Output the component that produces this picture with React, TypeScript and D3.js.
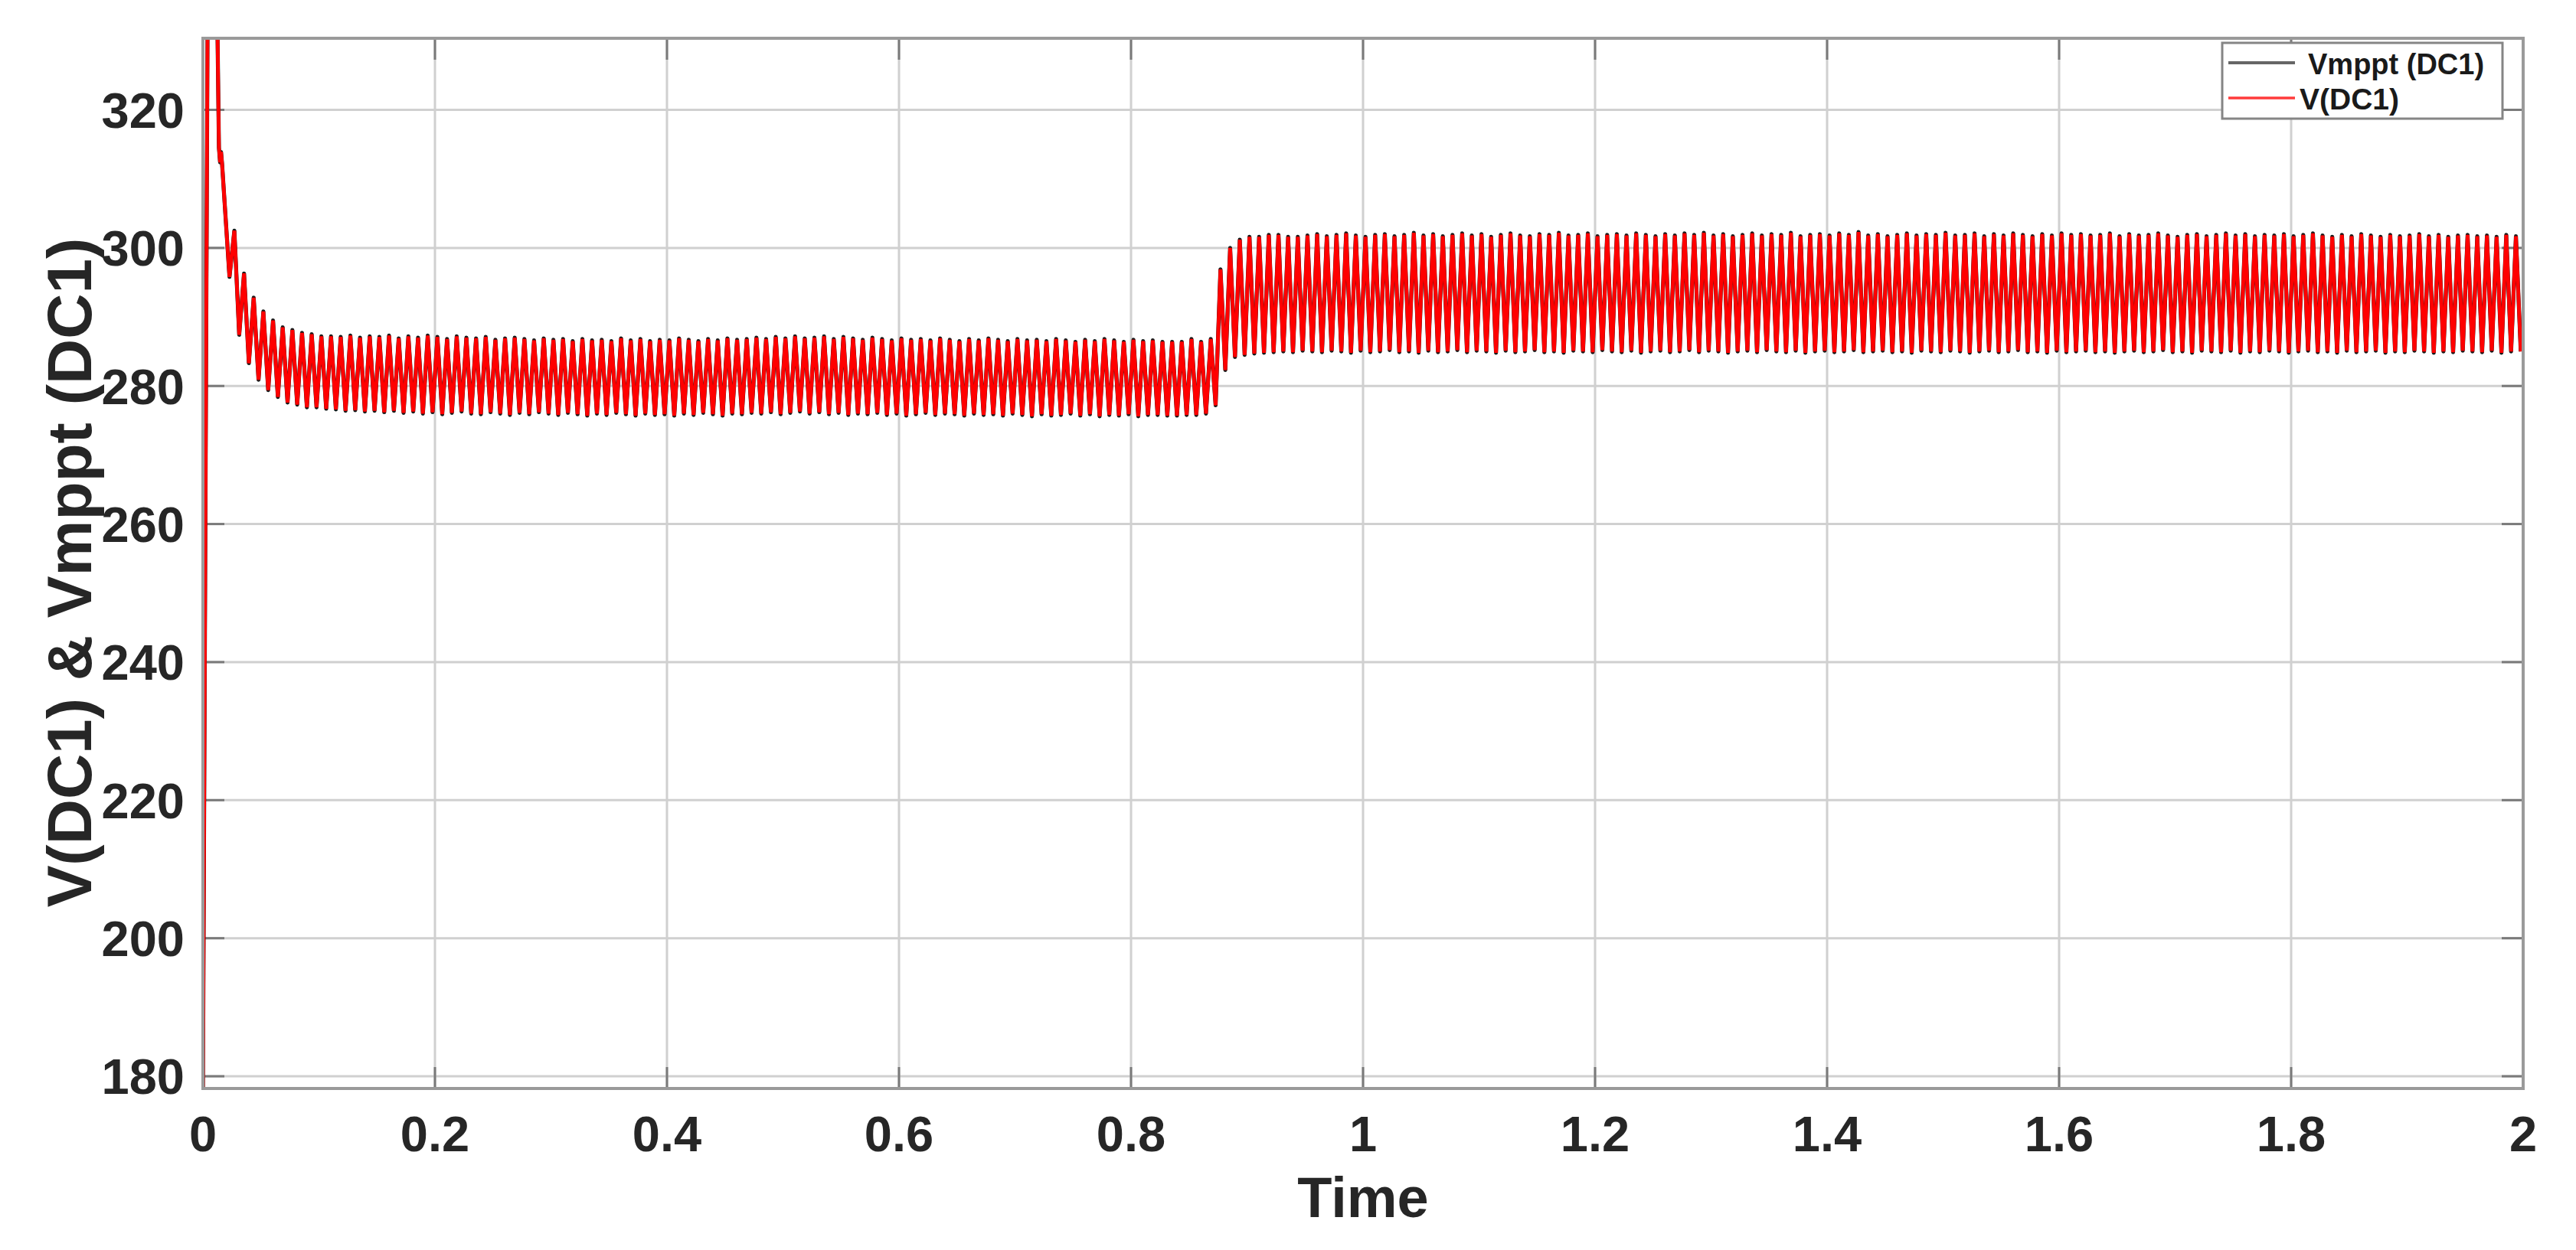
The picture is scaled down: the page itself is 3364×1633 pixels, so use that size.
import React from "react";
import * as d3 from "d3";

// ---------- data ----------
const xTicks = [0, 0.2, 0.4, 0.6, 0.8, 1, 1.2, 1.4, 1.6, 1.8, 2];
const yTicks = [180, 200, 220, 240, 260, 280, 300, 320];
const xDomain = [0, 2];
const yDomain = [178.23, 330.37];

const seriesNames = ["Vmppt (DC1)", "V(DC1)"];

// start-up transient (time s, voltage V)
const transientTime = [0, 0.0045, 0.0122, 0.0138, 0.0148, 0.0156, 0.0165, 0.0229];
const transientValue = [178, 352, 336, 314.5, 312.4, 313.9, 312.2, 295.8];

// ripple: one peak and one trough per 120 Hz cycle
const rippleStart = 0.0271;
const ripplePeriod = 1 / 120;

const peaksPhase1 = [
  302.5, 296.3, 292.8, 290.8, 289.5, 288.5, 288.1, 287.7, 287.5, 287.2, 287.2, 287.1, 287.3, 287.0, 287.2,
  287.1, 287.3, 286.9, 287.2, 287.0, 287.3, 287.1, 286.8, 287.2, 287.0, 286.9, 287.1, 286.7, 286.9, 287.0, 286.8, 286.6, 286.9, 286.7, 286.8,
  286.5, 286.8, 286.6, 286.7, 286.5, 286.9, 286.6, 286.8, 286.5, 286.7, 286.6, 286.9, 286.7, 286.5, 286.8, 286.6, 286.9, 286.7, 286.8, 287.0,
  286.8, 287.1, 286.9, 287.2, 286.9, 287.0, 287.2, 286.8, 287.1, 286.9, 286.7, 287.0, 286.8, 286.6, 286.9, 286.7, 286.8, 286.6, 286.9, 286.7,
  286.5, 286.8, 286.6, 286.9, 286.7, 286.5, 286.8, 286.6, 286.7, 286.5, 286.8, 286.6, 286.4, 286.7, 286.5, 286.8, 286.6, 286.4, 286.7, 286.5,
  286.6, 286.4, 286.4, 286.4, 286.8, 286.4, 286.8,
];
const troughsPhase1 = [
  287.4, 283.3, 280.9, 279.4, 278.4, 277.6, 277.3, 276.9, 276.9, 276.7, 276.6, 276.4, 276.5, 276.3, 276.4,
  276.2, 276.4, 276.1, 276.3, 276.0, 276.2, 275.9, 276.1, 276.3, 276.0, 275.9, 276.2, 276.0, 275.8, 276.1, 275.9, 276.2, 276.0, 275.8, 276.1,
  275.9, 275.7, 276.0, 275.8, 276.1, 275.9, 275.7, 276.0, 275.8, 275.9, 275.7, 276.0, 275.8, 276.1, 275.9, 275.7, 276.0, 275.9, 276.1, 276.0,
  276.2, 275.9, 276.1, 276.3, 276.0, 276.2, 275.9, 276.1, 275.8, 276.0, 275.9, 276.1, 275.8, 276.0, 275.7, 275.9, 276.1, 275.8, 276.0, 275.9,
  275.7, 276.0, 275.8, 275.9, 275.7, 276.0, 275.8, 275.6, 275.9, 275.7, 275.8, 276.0, 275.7, 275.9, 275.6, 275.8, 275.7, 275.9, 275.6, 275.8,
  275.8, 275.7, 275.7, 275.8, 275.8, 276.0, 277.2,
];
const peaksPhase2 = [
  296.9, 300.0, 301.2, 301.6, 301.6, 301.9, 301.9, 301.6, 301.6,
  301.8, 302.0, 301.7, 301.9, 302.1, 301.8, 301.6, 301.9, 302.0, 301.7, 301.9, 302.2, 301.8, 302.0, 301.7, 301.9, 302.1, 301.8, 302.0, 301.6,
  301.9, 302.1, 301.8, 301.7, 302.0, 301.9, 302.2, 301.8, 301.9, 302.1, 301.7, 301.9, 302.0, 301.8, 302.1, 301.9, 301.7, 302.0, 301.8, 302.1,
  301.9, 302.2, 301.8, 302.0, 301.7, 301.9, 302.1, 301.8, 302.0, 301.9, 302.2, 301.7, 301.9, 302.0, 301.8, 302.1, 301.9, 302.3, 301.8, 302.0,
  301.7, 301.9, 302.1, 301.8, 302.0, 301.9, 302.2, 301.8, 301.9, 302.1, 301.7, 302.0, 301.8, 302.1, 301.9, 301.7, 302.0, 301.8, 302.1, 301.9,
  302.0, 301.8, 301.9, 302.1, 301.7, 302.0, 301.8, 301.9, 302.1, 301.8, 301.6, 301.9, 302.0, 301.7, 301.9, 302.1, 301.8, 302.0, 301.7, 301.9,
  301.8, 302.0, 301.7, 301.9, 302.1, 301.8, 301.6, 301.9, 301.7, 302.0, 301.8, 301.6, 301.9, 301.7, 301.8, 302.0, 301.7, 301.9, 301.6, 301.8,
  301.9, 301.7, 301.8, 301.6, 301.9, 301.7,
];
const troughsPhase2 = [
  282.3, 284.2, 284.5, 284.7, 284.8, 284.9, 285.0, 284.9, 285.1,
  285.0, 284.9, 285.1, 285.0, 284.8, 285.1, 284.9, 285.0, 285.2, 284.9, 285.0, 284.8, 285.1, 284.9, 285.0, 285.2, 284.9, 285.1, 285.0, 284.8,
  285.1, 284.9, 285.0, 285.2, 284.9, 285.0, 284.8, 285.1, 285.0, 284.9, 285.2, 285.0, 284.9, 285.1, 284.8, 285.0, 285.1, 284.9, 285.0, 285.2,
  284.9, 285.1, 285.0, 284.8, 285.0, 285.1, 284.9, 285.2, 285.0, 284.9, 285.1, 284.8, 285.0, 285.1, 284.9, 285.0, 285.2, 284.9, 285.0, 285.1,
  284.9, 285.0, 284.8, 285.1, 285.0, 284.9, 285.1, 285.0, 284.8, 285.0, 285.1, 284.9, 285.0, 285.2, 284.9, 285.0, 284.8, 285.1, 284.9, 285.0,
  285.1, 284.9, 285.0, 284.8, 285.0, 285.1, 284.9, 285.0, 285.2, 284.9, 285.0, 284.8, 285.1, 285.0, 284.9, 285.1, 284.8, 285.0, 284.9, 285.1,
  285.0, 284.8, 285.0, 285.1, 284.9, 285.0, 284.8, 285.1, 284.9, 285.0, 285.1, 284.8, 285.0, 284.9, 285.1, 285.0, 284.8, 285.0, 284.9, 285.1,
  285.0, 284.9, 285.1, 284.8, 285.0, 285.0,
];

// ---------- layout ----------
const W = 3364;
const H = 1633;
const M = { left: 265, right: 3295, top: 50, bottom: 1422 };
const FONT = "'Liberation Sans', Arial, Helvetica, sans-serif";
const TEXT = "#262626";

function buildPoints(): [number, number][] {
  const pts: [number, number][] = transientTime.map((t, i) => [t, transientValue[i]] as [number, number]);
  const peaks = [...peaksPhase1, ...peaksPhase2];
  const troughs = [...troughsPhase1, ...troughsPhase2];
  peaks.forEach((p, k) => {
    const t = rippleStart + k * ripplePeriod;
    pts.push([t, p]);
    pts.push([t + ripplePeriod / 2, troughs[k]]);
  });
  return pts;
}

export default function App() {
  const x = d3.scaleLinear().domain(xDomain).range([M.left, M.right]);
  const y = d3.scaleLinear().domain(yDomain).range([M.bottom, M.top]);
  const pts = buildPoints();
  const line = d3
    .line<[number, number]>()
    .x((d) => x(d[0]))
    .y((d) => y(d[1]));
  const path = line(pts) || "";
  const tickLen = 28;
  const fmt = (v: number) => String(v);

  return (
    <div style={{ position: "absolute", left: 0, top: 0 }}>
      <svg width={W} height={H} style={{ display: "block", background: "#fff" }}>
        <defs>
          <clipPath id="plotClip">
            <rect x={M.left} y={M.top} width={M.right - M.left} height={M.bottom - M.top} />
          </clipPath>
        </defs>
        <rect x={0} y={0} width={W} height={H} fill="#fff" />
        {/* grid */}
        <g stroke="#d0d0d0" strokeWidth={3}>
          {xTicks.map((t) => (
            <line key={"gx" + t} x1={x(t)} x2={x(t)} y1={M.top} y2={M.bottom} />
          ))}
          {yTicks.map((t) => (
            <line key={"gy" + t} x1={M.left} x2={M.right} y1={y(t)} y2={y(t)} />
          ))}
        </g>
        {/* ticks */}
        <g stroke="#7a7a7a" strokeWidth={3}>
          {xTicks.map((t) => (
            <g key={"tx" + t}>
              <line x1={x(t)} x2={x(t)} y1={M.bottom} y2={M.bottom - tickLen} />
              <line x1={x(t)} x2={x(t)} y1={M.top} y2={M.top + tickLen} />
            </g>
          ))}
          {yTicks.map((t) => (
            <g key={"ty" + t}>
              <line x1={M.left} x2={M.left + tickLen} y1={y(t)} y2={y(t)} />
              <line x1={M.right} x2={M.right - tickLen} y1={y(t)} y2={y(t)} />
            </g>
          ))}
        </g>
        {/* series */}
        <g clipPath="url(#plotClip)" fill="none">
          <path d={path} stroke="#1a1a1a" strokeWidth={5.2} strokeLinejoin="round" />
          <path d={path} stroke="#ff0000" strokeWidth={4.8} strokeLinejoin="bevel" />
        </g>
        {/* axes box */}
        <rect
          x={M.left}
          y={M.top}
          width={M.right - M.left}
          height={M.bottom - M.top}
          fill="none"
          stroke="#9a9a9a"
          strokeWidth={4}
        />
        {/* tick labels */}
        <g fontFamily={FONT} fontWeight="bold" fontSize={65} fill={TEXT}>
          {xTicks.map((t) => (
            <text key={"lx" + t} x={x(t)} y={1504} textAnchor="middle">
              {fmt(t)}
            </text>
          ))}
          {yTicks.map((t) => (
            <text key={"ly" + t} x={241} y={y(t)} dy="0.36em" textAnchor="end">
              {fmt(t)}
            </text>
          ))}
        </g>
        {/* axis titles */}
        <text
          x={(M.left + M.right) / 2}
          y={1590}
          textAnchor="middle"
          fontFamily={FONT}
          fontWeight="bold"
          fontSize={74}
          fill={TEXT}
        >
          Time
        </text>
        <text
          transform={`translate(119, 748) rotate(-90)`}
          textAnchor="middle"
          fontFamily={FONT}
          fontWeight="bold"
          fontSize={82}
          fill={TEXT}
        >
          V(DC1) &amp; Vmppt (DC1)
        </text>
        {/* legend */}
        <g>
          <rect x={2902} y={56} width={366} height={99} fill="#fff" stroke="#858585" strokeWidth={3} />
          <line x1={2910} x2={2997} y1={82} y2={82} stroke="#666" strokeWidth={4} />
          <line x1={2910} x2={2997} y1={128} y2={128} stroke="#ff3b3b" strokeWidth={3.5} />
          <text x={3014} y={97} fontFamily={FONT} fontWeight="bold" fontSize={38} fill="#1a1a1a">
            {seriesNames[0]}
          </text>
          <text x={3003} y={143} fontFamily={FONT} fontWeight="bold" fontSize={39} fill="#1a1a1a">
            {seriesNames[1]}
          </text>
        </g>
      </svg>
    </div>
  );
}
